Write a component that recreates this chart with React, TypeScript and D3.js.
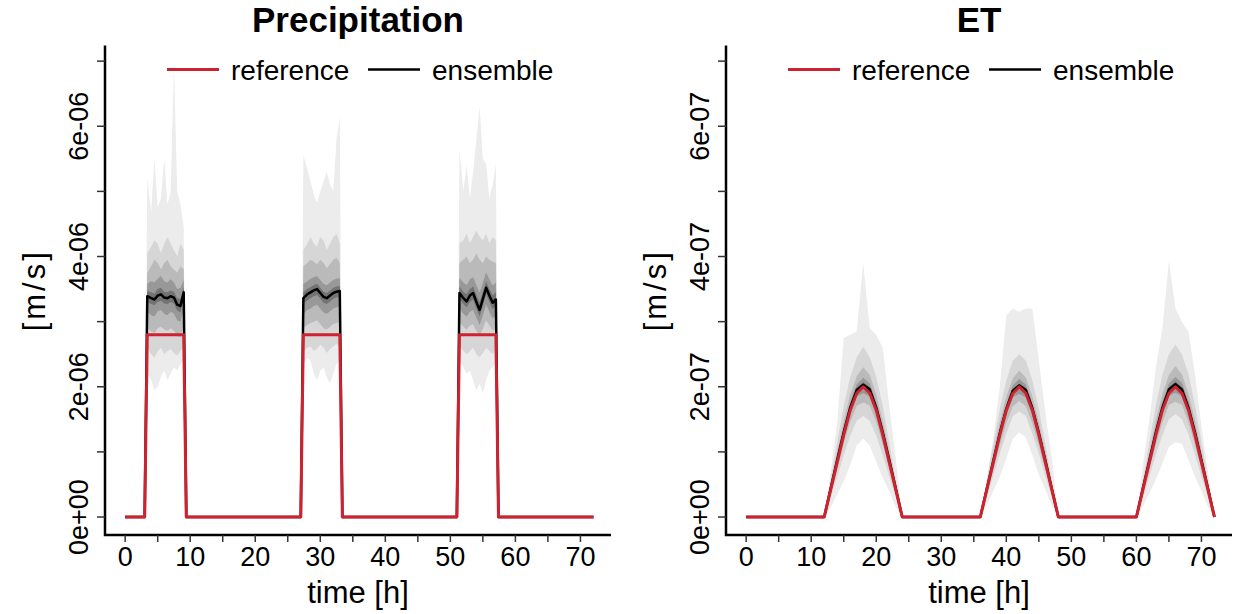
import React from 'react';
import * as d3 from 'd3';

// ---------- Precipitation (values in 1e-06 m/s) ----------
const precipTime = [0, 3, 3.4, 4, 4.5, 5, 5.5, 6, 6.5, 7, 7.5, 8, 8.5, 9, 9.4,
  27, 27.4, 28, 28.5, 29, 29.5, 30, 30.5, 31, 31.5, 32, 32.5, 33, 33.4,
  51, 51.4, 52, 52.5, 53, 53.5, 54, 54.5, 55, 55.5, 56, 56.5, 57, 57.4, 72];

const precipMax = [0, 0, 5.2, 4.7, 5.5, 4.75, 4.9, 5.5, 4.8, 5.0, 6.95, 5.0, 4.8, 4.45, 0,
  0, 5.55, 5.35, 5.15, 4.95, 4.83, 5.0, 5.15, 5.3, 5.1, 5.0, 5.8, 6.15, 0,
  0, 5.65, 5.0, 5.4, 4.9, 5.3, 5.8, 6.3, 5.5, 5.42, 4.9, 5.1, 5.42, 0, 0];
const precipQ95 = [0, 0, 4.05, 4.15, 4.25, 4.2, 4.05, 4.2, 4.3, 4.2, 4.1, 4.0, 4.2, 4.1, 0,
  0, 4.1, 4.2, 4.3, 4.2, 4.15, 4.3, 4.25, 4.1, 4.2, 4.3, 4.35, 4.2, 0,
  0, 4.2, 4.25, 4.35, 4.2, 4.3, 4.4, 4.3, 4.25, 4.35, 4.2, 4.3, 4.25, 0, 0];
const precipQ80 = [0, 0, 3.75, 3.85, 3.95, 3.9, 3.8, 3.9, 3.95, 3.85, 3.8, 3.75, 3.85, 3.8, 0,
  0, 3.85, 3.9, 3.95, 3.92, 3.88, 3.95, 3.9, 3.82, 3.88, 3.95, 3.98, 3.9, 0,
  0, 3.9, 3.95, 4.0, 3.9, 3.95, 4.05, 3.95, 3.9, 4.0, 3.95, 3.92, 3.9, 0, 0];
const precipQ65 = [0, 0, 3.58, 3.62, 3.6, 3.66, 3.7, 3.62, 3.6, 3.65, 3.6, 3.5, 3.52, 3.64, 0,
  0, 3.58, 3.62, 3.66, 3.68, 3.7, 3.64, 3.58, 3.56, 3.6, 3.64, 3.66, 3.67, 0,
  0, 3.67, 3.6, 3.56, 3.65, 3.68, 3.56, 3.45, 3.6, 3.76, 3.65, 3.55, 3.6, 0, 0];
const precipQ55 = [0, 0, 3.47, 3.45, 3.43, 3.5, 3.52, 3.46, 3.45, 3.48, 3.46, 3.36, 3.35, 3.53, 0,
  0, 3.45, 3.5, 3.53, 3.56, 3.58, 3.52, 3.46, 3.44, 3.48, 3.52, 3.54, 3.55, 0,
  0, 3.54, 3.46, 3.42, 3.5, 3.54, 3.41, 3.3, 3.46, 3.62, 3.5, 3.4, 3.45, 0, 0];
const precipMedian = [0, 0, 3.39, 3.36, 3.34, 3.4, 3.42, 3.37, 3.36, 3.39, 3.37, 3.26, 3.24, 3.45, 0,
  0, 3.36, 3.42, 3.45, 3.48, 3.5, 3.44, 3.38, 3.36, 3.4, 3.44, 3.46, 3.47, 0,
  0, 3.44, 3.36, 3.31, 3.4, 3.44, 3.3, 3.18, 3.35, 3.52, 3.4, 3.29, 3.34, 0, 0];
const precipQ45 = [0, 0, 3.3, 3.27, 3.25, 3.3, 3.32, 3.28, 3.27, 3.3, 3.28, 3.17, 3.14, 3.35, 0,
  0, 3.27, 3.33, 3.36, 3.39, 3.41, 3.35, 3.29, 3.27, 3.31, 3.35, 3.37, 3.38, 0,
  0, 3.35, 3.27, 3.22, 3.3, 3.34, 3.2, 3.08, 3.25, 3.42, 3.3, 3.19, 3.24, 0, 0];
const precipQ35 = [0, 0, 3.15, 3.1, 3.08, 3.16, 3.18, 3.12, 3.1, 3.15, 3.12, 3.02, 3.0, 3.2, 0,
  0, 3.12, 3.18, 3.2, 3.24, 3.26, 3.2, 3.14, 3.12, 3.16, 3.2, 3.22, 3.24, 0,
  0, 3.2, 3.12, 3.08, 3.15, 3.18, 3.06, 2.95, 3.1, 3.26, 3.15, 3.05, 3.1, 0, 0];
const precipQ20 = [0, 0, 2.9, 2.85, 2.82, 2.9, 2.92, 2.88, 2.86, 2.9, 2.86, 2.78, 2.76, 2.95, 0,
  0, 2.9, 2.95, 2.98, 3.0, 3.02, 2.96, 2.9, 2.88, 2.92, 2.96, 2.98, 3.0, 0,
  0, 2.98, 2.92, 2.88, 2.94, 2.96, 2.86, 2.78, 2.9, 3.02, 2.94, 2.86, 2.9, 0, 0];
const precipQ5 = [0, 0, 2.6, 2.5, 2.45, 2.55, 2.6, 2.5, 2.55, 2.58, 2.52, 2.48, 2.55, 2.62, 0,
  0, 2.55, 2.6, 2.62, 2.55, 2.58, 2.65, 2.6, 2.52, 2.58, 2.62, 2.66, 2.6, 0,
  0, 2.62, 2.55, 2.5, 2.55, 2.6, 2.5, 2.45, 2.52, 2.6, 2.55, 2.5, 2.58, 0, 0];
const precipMin = [0, 0, 2.2, 2.1, 1.95, 2.0, 2.15, 2.25, 2.1, 2.2, 2.3, 2.25, 2.35, 2.4, 0,
  0, 2.35, 2.45, 2.4, 2.2, 2.1, 2.25, 2.3, 2.15, 2.05, 2.2, 2.35, 2.4, 0,
  0, 2.4, 2.3, 2.2, 2.25, 2.1, 1.95, 2.05, 1.9, 2.1, 2.25, 2.3, 2.4, 0, 0];

const precipRefTime = [0, 3, 3.4, 9, 9.4, 27, 27.4, 33, 33.4, 51, 51.4, 57, 57.4, 72];
const precipRef = [0, 0, 2.8, 2.8, 0, 0, 2.8, 2.8, 0, 0, 2.8, 2.8, 0, 0];
const precipTickLabels = ['0e+00', '2e-06', '4e-06', '6e-06'];

// ---------- ET (values in 1e-07 m/s) ----------
const etTime = [0, 12, 13, 14, 15, 16, 17, 18, 19, 20, 21, 22, 23, 24,
  36, 37, 38, 39, 40, 41, 42, 43, 44, 45, 46, 47, 48,
  60, 61, 62, 63, 64, 65, 66, 67, 68, 69, 70, 71, 72];

const etMax = [0, 0, 0.7, 1.45, 2.75, 2.8, 2.85, 3.9, 2.9, 2.8, 2.6, 1.7, 0.9, 0,
  0, 0.6, 1.2, 2.0, 3.1, 3.2, 3.15, 3.2, 3.2, 2.4, 1.6, 0.9, 0,
  0, 0.8, 1.5, 2.3, 2.9, 3.93, 3.2, 3.0, 2.85, 2.2, 1.4, 0.7, 0];
const etQ95 = [0, 0, 0.58, 1.15, 1.7, 2.15, 2.45, 2.62, 2.45, 2.15, 1.7, 1.15, 0.58, 0,
  0, 0.56, 1.12, 1.66, 2.1, 2.4, 2.5, 2.4, 2.1, 1.66, 1.12, 0.56, 0,
  0, 0.58, 1.16, 1.72, 2.18, 2.5, 2.65, 2.5, 2.2, 1.72, 1.16, 0.58, 0];
const etQ80 = [0, 0, 0.5, 1.0, 1.48, 1.88, 2.16, 2.3, 2.18, 1.88, 1.48, 1.0, 0.5, 0,
  0, 0.5, 0.99, 1.46, 1.85, 2.13, 2.25, 2.14, 1.85, 1.46, 0.99, 0.5, 0,
  0, 0.51, 1.01, 1.49, 1.89, 2.18, 2.32, 2.19, 1.9, 1.49, 1.01, 0.51, 0];
const etQ65 = [0, 0, 0.47, 0.93, 1.38, 1.76, 2.04, 2.14, 2.05, 1.76, 1.38, 0.93, 0.47, 0,
  0, 0.46, 0.92, 1.37, 1.74, 2.02, 2.12, 2.03, 1.74, 1.37, 0.92, 0.46, 0,
  0, 0.47, 0.93, 1.39, 1.77, 2.05, 2.15, 2.06, 1.77, 1.39, 0.93, 0.47, 0];
const etQ55 = [0, 0, 0.45, 0.9, 1.33, 1.71, 1.98, 2.07, 1.99, 1.71, 1.33, 0.9, 0.45, 0,
  0, 0.44, 0.89, 1.32, 1.69, 1.97, 2.05, 1.98, 1.7, 1.32, 0.89, 0.44, 0,
  0, 0.45, 0.9, 1.34, 1.71, 1.99, 2.08, 1.99, 1.71, 1.34, 0.9, 0.45, 0];
const etMedian = [0, 0, 0.44, 0.88, 1.3, 1.68, 1.95, 2.03, 1.96, 1.68, 1.3, 0.88, 0.44, 0,
  0, 0.43, 0.86, 1.29, 1.66, 1.94, 2.02, 1.95, 1.67, 1.29, 0.87, 0.43, 0,
  0, 0.44, 0.87, 1.3, 1.68, 1.96, 2.04, 1.96, 1.68, 1.3, 0.87, 0.44, 0];
const etQ45 = [0, 0, 0.43, 0.86, 1.27, 1.65, 1.92, 1.99, 1.93, 1.65, 1.27, 0.86, 0.43, 0,
  0, 0.42, 0.84, 1.26, 1.63, 1.91, 1.98, 1.92, 1.64, 1.26, 0.85, 0.42, 0,
  0, 0.43, 0.85, 1.27, 1.65, 1.93, 2.0, 1.93, 1.65, 1.27, 0.85, 0.43, 0];
const etQ35 = [0, 0, 0.41, 0.82, 1.21, 1.58, 1.85, 1.9, 1.85, 1.58, 1.21, 0.82, 0.41, 0,
  0, 0.4, 0.8, 1.2, 1.56, 1.84, 1.89, 1.84, 1.57, 1.2, 0.81, 0.4, 0,
  0, 0.41, 0.81, 1.21, 1.58, 1.86, 1.91, 1.86, 1.58, 1.21, 0.81, 0.41, 0];
const etQ20 = [0, 0, 0.37, 0.75, 1.12, 1.46, 1.71, 1.76, 1.71, 1.46, 1.12, 0.75, 0.37, 0,
  0, 0.36, 0.73, 1.1, 1.44, 1.7, 1.78, 1.7, 1.44, 1.1, 0.74, 0.36, 0,
  0, 0.37, 0.74, 1.11, 1.46, 1.72, 1.77, 1.72, 1.46, 1.11, 0.74, 0.37, 0];
const etQ5 = [0, 0, 0.3, 0.62, 0.95, 1.25, 1.48, 1.55, 1.48, 1.25, 0.95, 0.62, 0.3, 0,
  0, 0.31, 0.63, 0.97, 1.28, 1.55, 1.62, 1.55, 1.28, 0.97, 0.63, 0.31, 0,
  0, 0.3, 0.62, 0.96, 1.26, 1.5, 1.58, 1.5, 1.27, 0.96, 0.62, 0.3, 0];
const etMin = [0, 0, 0.15, 0.35, 0.55, 0.8, 1.1, 1.2, 1.1, 0.85, 0.6, 0.4, 0.15, 0,
  0, 0.18, 0.4, 0.62, 0.9, 1.2, 1.3, 1.22, 0.95, 0.65, 0.42, 0.18, 0,
  0, 0.16, 0.36, 0.58, 0.82, 1.08, 1.15, 1.12, 0.88, 0.62, 0.4, 0.16, 0];

const etRef = [0, 0, 0.42, 0.84, 1.26, 1.64, 1.9, 2.0, 1.9, 1.64, 1.26, 0.84, 0.42, 0,
  0, 0.42, 0.84, 1.26, 1.64, 1.9, 2.0, 1.9, 1.64, 1.26, 0.84, 0.42, 0,
  0, 0.42, 0.84, 1.26, 1.64, 1.9, 2.0, 1.9, 1.64, 1.26, 0.84, 0.42, 0];
const etTickLabels = ['0e+00', '2e-07', '4e-07', '6e-07'];

// shared axis labels
const xTickValues = [0, 10, 20, 30, 40, 50, 60, 70];
const yTickValues = [0, 2, 4, 6];
const legendLabels = ['reference', 'ensemble'];

const FONT = '"Liberation Sans", Arial, Helvetica, sans-serif';
const bandColors = ['#ececec', '#d6d6d6', '#bababa', '#989898', '#737373'];
const refColor = '#cd2230';

type PanelProps = {
  dx: number;
  title: string;
  time: number[];
  bands: number[][][];
  median: number[];
  refTime: number[];
  refValues: number[];
  tickLabels: string[];
};

const Panel = ({ dx, title, time, bands, median, refTime, refValues, tickLabels }: PanelProps) => {
  const left = 105 + dx;
  const right = 611 + dx;
  const top = 45.5;
  const bottom = 535;

  const x = d3.scaleLinear().domain([-3.1, 74.7]).range([left, right]);
  const y = d3.scaleLinear().domain([-0.276, 7.24]).range([bottom, top]);

  const line = (tt: number[], vv: number[]) =>
    d3.line<number>().x((d, i) => x(tt[i])).y(d => y(d))(vv) || '';

  const band = (lo: number[], hi: number[]) =>
    d3.area<number>()
      .x(d => x(d))
      .y0((d, i) => y(lo[i]))
      .y1((d, i) => y(hi[i]))(time) || '';

  const midX = (left + right) / 2;
  const midY = (top + bottom) / 2;

  return (
    <g fontFamily={FONT} fill="#000">
      {/* quantile bands */}
      {bands.map(([lo, hi], i) => (
        <path key={i} d={band(lo, hi)} fill={bandColors[i]} stroke="none" />
      ))}
      <path d={line(time, median)} fill="none" stroke="#000" strokeWidth={2.5} strokeLinejoin="round" />
      <path d={line(refTime, refValues)} fill="none" stroke={refColor} strokeWidth={3} strokeLinejoin="round" />

      {/* L-shaped box */}
      <path d={`M${left},${top}V${bottom}H${right}`} fill="none" stroke="#000" strokeWidth={2.5} />

      {/* x ticks */}
      {d3.range(0, 71, 5).map(t => (
        <line key={'xt' + t} x1={x(t)} x2={x(t)} y1={bottom} y2={bottom + 7} stroke="#333" strokeWidth={1.5} />
      ))}
      {xTickValues.map(t => (
        <text key={'xl' + t} x={x(t)} y={566} fontSize={27} textAnchor="middle">{t}</text>
      ))}

      {/* y ticks */}
      {d3.range(0, 8).map(v => (
        <line key={'yt' + v} x1={left - 8} x2={left} y1={y(v)} y2={y(v)} stroke="#333" strokeWidth={1.5} />
      ))}
      {yTickValues.map((v, i) => (
        <text key={'yl' + v} transform={`translate(${left - 17},${y(v)}) rotate(-90)`}
          fontSize={27} textAnchor="middle">{tickLabels[i]}</text>
      ))}

      {/* axis titles */}
      <text x={midX} y={603} fontSize={31} textAnchor="middle">time [h]</text>
      <text transform={`translate(${left - 60},${midY}) rotate(-90)`} fontSize={31}
        textAnchor="middle" letterSpacing={3}>[m/s]</text>
      <text x={midX} y={32} fontSize={35} fontWeight="bold" textAnchor="middle">{title}</text>

      {/* legend */}
      <line x1={left + 62} x2={left + 114} y1={69.5} y2={69.5} stroke={refColor} strokeWidth={3} />
      <text x={left + 126} y={80} fontSize={28}>{legendLabels[0]}</text>
      <line x1={left + 263} x2={left + 315} y1={69.5} y2={69.5} stroke="#000" strokeWidth={2.5} />
      <text x={left + 327} y={80} fontSize={28}>{legendLabels[1]}</text>
    </g>
  );
};

export default function App() {
  return (
    <svg width={1237} height={614} style={{ position: 'absolute', left: 0, top: 0, background: '#fff' }}>
      <rect width={1237} height={614} fill="#fff" />
      <Panel
        dx={0}
        title="Precipitation"
        time={precipTime}
        bands={[
          [precipMin, precipMax],
          [precipQ5, precipQ95],
          [precipQ20, precipQ80],
          [precipQ35, precipQ65],
          [precipQ45, precipQ55],
        ]}
        median={precipMedian}
        refTime={precipRefTime}
        refValues={precipRef}
        tickLabels={precipTickLabels}
      />
      <Panel
        dx={621}
        title="ET"
        time={etTime}
        bands={[
          [etMin, etMax],
          [etQ5, etQ95],
          [etQ20, etQ80],
          [etQ35, etQ65],
          [etQ45, etQ55],
        ]}
        median={etMedian}
        refTime={etTime}
        refValues={etRef}
        tickLabels={etTickLabels}
      />
    </svg>
  );
}
